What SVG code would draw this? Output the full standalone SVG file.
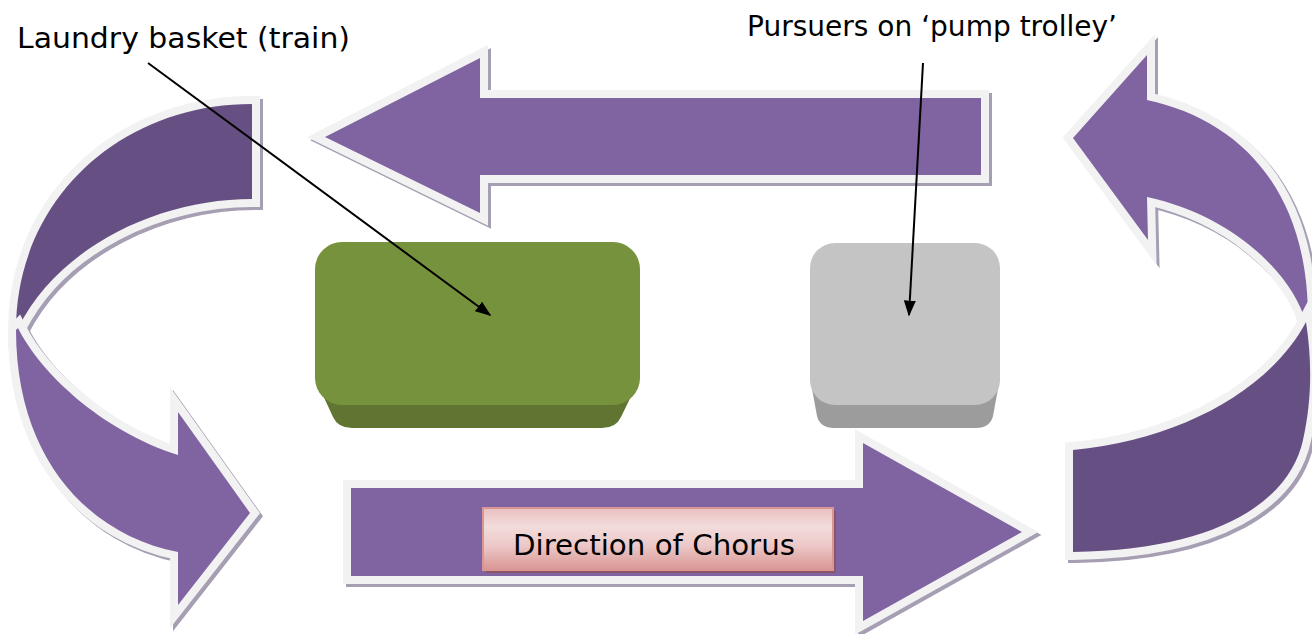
<svg xmlns="http://www.w3.org/2000/svg" width="1312" height="634" viewBox="0 0 1312 634">
<style>
.sh{fill:#a69eb3;stroke:#a69eb3;stroke-width:16;stroke-linejoin:miter;stroke-miterlimit:4}
.pl{fill:#8064a2;stroke:#f2f2f2;stroke-width:16;paint-order:stroke;stroke-linejoin:miter;stroke-miterlimit:4}
.pd{fill:#664f83;stroke:#f2f2f2;stroke-width:16;paint-order:stroke;stroke-linejoin:miter;stroke-miterlimit:4}
.lbl{font-family:"DejaVu Sans","Open Sans",sans-serif;font-size:28px;fill:#000}
.call{stroke:#000;stroke-width:2;fill:none}
</style>
<defs>
<marker id="ah" viewBox="0 0 10 10" refX="9" refY="5" markerWidth="8" markerHeight="6" orient="auto" markerUnits="strokeWidth" preserveAspectRatio="none">
<path d="M0,0 L10,5 L0,10 Z" fill="#000"/>
</marker>
<linearGradient id="pink" x1="0" y1="0" x2="0" y2="1">
<stop offset="0" stop-color="#e9c0c0"/>
<stop offset="0.3" stop-color="#f2dcdb"/>
<stop offset="0.6" stop-color="#ecc9c8"/>
<stop offset="1" stop-color="#d99694"/>
</linearGradient>
<path id="topA" d="M325,137 L480,58 L480,98 L981,98 L981,175 L480,175 L480,213 Z"/>
<path id="botA" d="M351,488 L863,488 L863,443 L1022,532 L863,621 L863,576 L351,576 Z"/>
<path id="lDark" d="M252,104 C120,104 16,200 16,330 L18,328 C60,245 160,199 252,199 Z"/>
<path id="lLight" d="M18,328 C40,372 100,430 178,455 L178,412 L250,513 L178,605 L178,552 C90,535 16,460 16,330 Z"/>
<path id="rLight" d="M1147,100 C1240,120 1308,190 1308,318 L1306,322 C1290,270 1230,215 1147,197 L1148,240 L1073,138 L1147,55 Z"/>
<path id="rDark" d="M1306,322 C1312,360 1312,400 1303,440 C1290,500 1220,550 1073,552 L1073,450 C1180,440 1270,390 1306,322 Z"/>
</defs>

<g id="arrow-top">
<use href="#topA" class="sh" transform="translate(3,3)"/>
<use href="#topA" class="pl"/>
</g>
<g id="arrow-left">
<use href="#lDark" class="sh" transform="translate(3,3)"/>
<use href="#lLight" class="sh" transform="translate(3,3)"/>
<use href="#lDark" class="pd"/>
<use href="#lLight" class="pl"/>
</g>
<g id="arrow-right">
<use href="#rLight" class="sh" transform="translate(3,3)"/>
<use href="#rDark" class="sh" transform="translate(3,3)"/>
<use href="#rLight" class="pl"/>
<use href="#rDark" class="pd"/>
</g>
<g id="arrow-bottom">
<use href="#botA" class="sh" transform="translate(3,3)"/>
<use href="#botA" class="pl"/>
</g>

<g id="train">
<path d="M315,378 L333,417 Q338,428 352,428 L602,428 Q616,428 621,417 L640,378 Z" fill="#5f7531"/>
<rect x="315" y="242" width="325" height="163" rx="27" fill="#77923c"/>
</g>
<g id="trolley">
<path d="M810,378 L817,416 Q820,428 834,428 L976,428 Q990,428 993,416 L1000,378 Z" fill="#9c9c9c"/>
<rect x="810" y="243" width="190" height="162" rx="25" fill="#c4c4c4"/>
</g>

<g id="label-direction">
<rect x="486" y="511" width="350" height="62" fill="#8c5566"/>
<rect x="483" y="508" width="350" height="62" fill="url(#pink)" stroke="#d99694" stroke-width="2"/>
<text class="lbl" x="513" y="555" textLength="282" lengthAdjust="spacingAndGlyphs">Direction of Chorus</text>
</g>

<g id="label-laundry">
<text class="lbl" x="17" y="48" textLength="333" lengthAdjust="spacingAndGlyphs">Laundry basket (train)</text>
</g>
<g id="label-pursuers">
<text class="lbl" x="747" y="36" textLength="370" lengthAdjust="spacingAndGlyphs">Pursuers on ‘pump trolley’</text>
</g>

<g id="connectors">
<line class="call" x1="148" y1="63" x2="490" y2="315" marker-end="url(#ah)"/>
<line class="call" x1="923" y1="63" x2="909" y2="315" marker-end="url(#ah)"/>
</g>
</svg>
